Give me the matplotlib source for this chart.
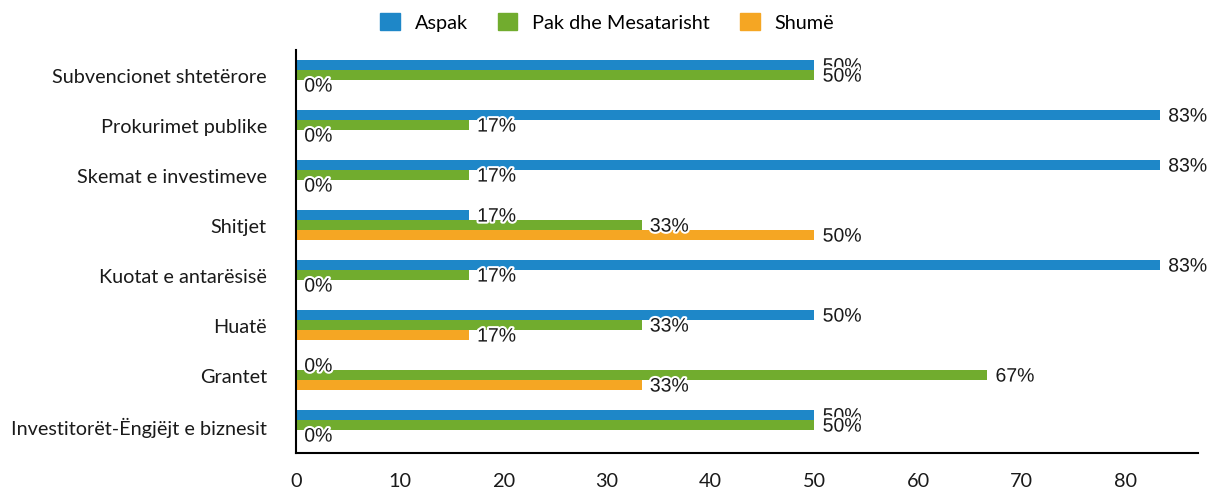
import matplotlib
matplotlib.use("Agg")
from matplotlib import pyplot as plt
from matplotlib.patches import Patch
import matplotlib.patheffects as pe
import numpy as np

categories = ["Subvencionet shtetërore", "Prokurimet publike", "Skemat e investimeve",
              "Shitjet", "Kuotat e antarësisë", "Huatë", "Grantet",
              "Investitorët-Ëngjëjt e biznesit"]
series = ["Aspak", "Pak dhe Mesatarisht", "Shumë"]
aspak = [50, 83.33, 83.33, 16.67, 83.33, 50, 0, 50]
pak = [50, 16.67, 16.67, 33.33, 16.67, 33.33, 66.67, 50]
shume = [0, 0, 0, 50, 0, 16.67, 33.33, 0]
labels_aspak = ["50%", "83%", "83%", "17%", "83%", "50%", "0%", "50%"]
labels_pak = ["50%", "17%", "17%", "33%", "17%", "33%", "67%", "50%"]
labels_shume = ["0%", "0%", "0%", "50%", "0%", "17%", "33%", "0%"]
colors = ["#1e87c8", "#71ac2e", "#f5a623"]
xticks = [0, 10, 20, 30, 40, 50, 60, 70, 80]

plt.rcParams['font.family'] = ['Lato', 'DejaVu Sans']

fig = plt.figure(figsize=(12.07, 4.89), dpi=100)
ax = fig.add_axes([0.2452, 0.0716, 0.9925 - 0.2452, 0.8957 - 0.0716])

y = np.arange(len(categories))
h = 0.2
all_vals = [aspak, pak, shume]
all_labels = [labels_aspak, labels_pak, labels_shume]
for k, (vals, labs) in enumerate(zip(all_vals, all_labels)):
    pos = y + (k - 1) * h
    ax.barh(pos, vals, height=h, color=colors[k], zorder=2)
    for p, v, t in zip(pos, vals, labs):
        ax.annotate(t, (v, p), xytext=(6, -1.5), textcoords="offset points",
                    ha="left", va="center", fontsize=14,
                    family=["Liberation Sans", "DejaVu Sans"],
                    color="#1a1a1a", zorder=3,
                    path_effects=[pe.withStroke(linewidth=3, foreground="white")])

ax.set_ylim(len(categories) - 1 + 0.56, -0.5)
ax.set_xlim(0, 87.0)
ax.set_yticks(y)
ax.set_yticklabels(categories, fontsize=14.3, color="#1a1a1a")
ax.set_xticks(xticks)
ax.set_xticklabels([str(t) for t in xticks], fontsize=14.3, color="#1a1a1a")
ax.tick_params(axis="y", length=0, pad=21)
ax.tick_params(axis="x", length=0, pad=14)
for s in ["top", "right"]:
    ax.spines[s].set_visible(False)
ax.spines["left"].set_linewidth(1.5)
ax.spines["bottom"].set_linewidth(1.5)

handles = [Patch(facecolor=c, edgecolor=c, label=s) for c, s in zip(colors, series)]
fig.legend(handles=handles, loc="center", bbox_to_anchor=(0.503, 0.953), ncol=3,
           frameon=False, fontsize=14.3, handlelength=1.0, handleheight=1.0,
           handletextpad=0.75, columnspacing=1.5)

fig.savefig("out.png", dpi=100)
